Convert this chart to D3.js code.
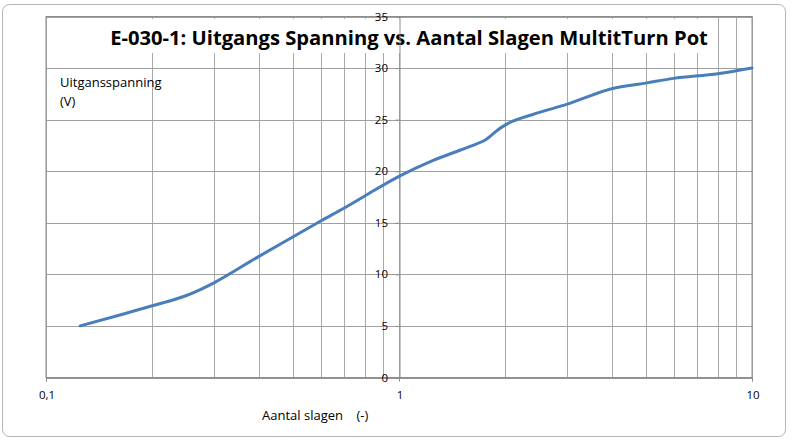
<!DOCTYPE html>
<html>
<head>
<meta charset="utf-8">
<script src="https://cdn.jsdelivr.net/npm/d3@7"></script>
<style>
body{margin:0;background:#fff}
svg{display:block}
text{font-family:"Open Sans",sans-serif;fill:#000}
</style>
</head>
<body>
<svg width="793" height="442"></svg>
<script>
var turns = [0.125, 0.2, 0.25, 0.3, 0.4, 0.5, 0.6, 0.7, 0.8, 1, 1.25, 1.5, 1.75, 1.85, 1.95, 2.1, 2.5, 3, 4, 5, 6, 8, 10];
var volts = [5.0, 6.95, 7.95, 9.2, 11.72, 13.62, 15.17, 16.43, 17.6, 19.5, 21.05, 22.08, 23.0, 23.65, 24.25, 24.85, 25.7, 26.5, 28.0, 28.54, 29.0, 29.45, 30.0];
var xLabelTicks = [0.1, 1, 10];
var yTicks = [0, 5, 10, 15, 20, 25, 30, 35];

var title = "E-030-1: Uitgangs Spanning vs. Aantal Slagen MultitTurn Pot";
var yTitle = ["Uitgansspanning", "(V)"];
var xTitle = "Aantal slagen    (-)";

var svg = d3.select("svg");
// plot area edges (note: "top" is taken by window.top)
var pLeft = 46, pRight = 752, pTop = 16.5, pBottom = 377.5;

var x = d3.scaleLog().domain([0.1, 10]).range([pLeft, pRight]);
var y = d3.scaleLinear().domain([0, 35]).range([pBottom, pTop]);

var nl = d3.formatLocale({decimal: ",", thousands: ".", grouping: [3], currency: ["", ""]});
var fmt = nl.format("~g");

// chart area frame
svg.append("rect").attr("x", 2.5).attr("y", 4.5).attr("width", 783).attr("height", 432)
	.attr("rx", 7).attr("fill", "#fff").attr("stroke", "#b4b4b4");

// grid
svg.append("g").selectAll("line").data(x.ticks()).enter().append("line")
	.attr("x1", function(d){return Math.round(x(d)) + 0.5}).attr("x2", function(d){return Math.round(x(d)) + 0.5})
	.attr("y1", pTop).attr("y2", pBottom).attr("stroke", "#a8a8a8");
svg.append("g").selectAll("line").data(yTicks).enter().append("line")
	.attr("x1", pLeft).attr("x2", pRight)
	.attr("y1", function(d){return Math.round(y(d)) + 0.5}).attr("y2", function(d){return Math.round(y(d)) + 0.5})
	.attr("stroke", "#a0a0a0");

// plot border
svg.append("rect").attr("x", pLeft).attr("y", pTop).attr("width", pRight - pLeft).attr("height", pBottom - pTop)
	.attr("fill", "none").attr("stroke", "#8c8c8c");

// title with white box behind
var tg = svg.append("g");
var tbox = tg.append("rect").attr("fill", "#fff");
var tt = tg.append("text").attr("x", 409).attr("y", 45).attr("text-anchor", "middle")
	.attr("font-weight", "bold").attr("font-size", 22).text(title);
var w = tt.node().getComputedTextLength();
tt.attr("font-size", 22 * 598 / w);
tbox.attr("x", 105).attr("y", 19).attr("width", 608).attr("height", 34);

// axes
var xAxis = d3.axisBottom(x).tickValues(xLabelTicks).tickSize(4).tickFormat(function(){return ""});
var gx = svg.append("g").attr("transform", "translate(0," + pBottom + ")").call(xAxis);
gx.select(".domain").attr("stroke", "#8c8c8c");
gx.selectAll(".tick line").attr("stroke", "#8c8c8c");

var yAxis = d3.axisLeft(y).tickValues(yTicks).tickSize(4).tickFormat(function(){return ""});
var gy = svg.append("g").attr("transform", "translate(" + (Math.round(x(1)) + 0.5) + ",0)").call(yAxis);
gy.select(".domain").attr("stroke", "#8c8c8c");
gy.selectAll(".tick line").attr("stroke", "#8c8c8c");

// tick labels
svg.append("g").selectAll("text").data(yTicks).enter().append("text")
	.attr("x", 388).attr("y", function(d){return y(d)}).attr("dy", "0.35em")
	.attr("text-anchor", "end").attr("font-size", 11.5).text(function(d){return fmt(d)});
svg.append("g").selectAll("text").data(xLabelTicks).enter().append("text")
	.attr("x", function(d){return x(d) + 1}).attr("y", 395).attr("dy", "0.35em")
	.attr("text-anchor", "middle").attr("font-size", 11.5).text(function(d){return fmt(d)});

// axis titles
svg.append("g").selectAll("text").data(yTitle).enter().append("text")
	.attr("x", 60).attr("y", function(d, i){return 87 + i * 19}).attr("font-size", 13).text(function(d){return d});
svg.append("text").attr("x", 262).attr("y", 420).attr("font-size", 13).attr("xml:space", "preserve")
	.style("white-space", "pre").text(xTitle);

// the curve
var pts = turns.map(function(t, i){return [t, volts[i]]});
var line = d3.line().x(function(d){return x(d[0])}).y(function(d){return y(d[1])}).curve(d3.curveCatmullRom.alpha(0.5));
svg.append("path").datum(pts).attr("d", line).attr("fill", "none")
	.attr("stroke", "#4a7ebb").attr("stroke-width", 3).attr("stroke-linecap", "round");
</script>
</body>
</html>
